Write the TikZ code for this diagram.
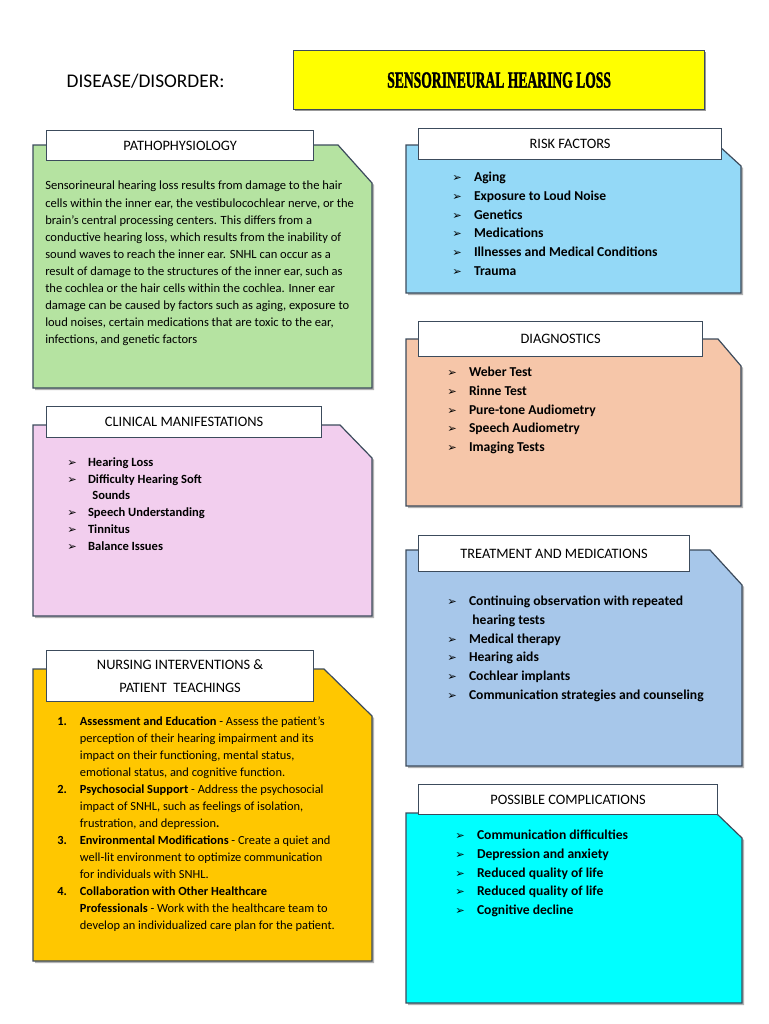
\documentclass[tikz,border=0pt]{standalone}
\usepackage{fontspec}
\setmainfont{Carlito}
\newfontfamily\symf{DejaVu Sans}
\newfontfamily\titlef{Liberation Serif}
\definecolor{cgreen}{RGB}{181,227,161}
\definecolor{cblue}{RGB}{148,217,247}
\definecolor{corange}{RGB}{246,198,169}
\definecolor{cpink}{RGB}{242,206,238}
\definecolor{ctreat}{RGB}{167,199,234}
\definecolor{cyel}{RGB}{255,199,0}
\definecolor{ccyan}{RGB}{0,255,255}
\definecolor{cyellow}{RGB}{255,255,0}
\definecolor{cbd}{RGB}{60,75,92}
\begin{document}
\begin{tikzpicture}[x=0.75pt,y=-0.75pt,
  bd/.style={draw=cbd,line width=0.9pt},
  lab/.style={bd,fill=white,anchor=north west,inner sep=0pt,align=center,font=\fontsize{10.8}{12}\selectfont},
  body/.style={anchor=north west,inner sep=0pt,align=left,font=\fontsize{9.4}{12.8}\selectfont},
  blist/.style={anchor=north west,inner sep=0pt,align=left,font=\bfseries\fontsize{10.2}{14}\selectfont}]
\useasboundingbox (0,0) rectangle (768,1024);
\newcommand\ar{{\symf\fontsize{8.5}{8}\selectfont ➢}\hspace{0.9em}}
\newcommand\fold[7]{\fill[black!30] (#1+2,#3+2) -- (#5+2,#3+2) -- (#2+2,#6+2) -- (#2+2,#4+2) -- (#1+2,#4+2) -- cycle;
  \draw[bd,fill=#7] (#1,#3) -- (#5,#3) -- (#2,#6) -- (#2,#4) -- (#1,#4) -- cycle;}
% title
\node[anchor=west,font=\fontsize{14.5}{16}\selectfont] (dis) at (62,81) {DISEASE/DISORDER:};
\fill[black!40] (295,52) rectangle (706,111);
\node[bd,fill=cyellow,minimum width=411*0.75pt,minimum height=59*0.75pt,anchor=north west,inner sep=0pt] (title) at (293,50)
  {\titlef\bfseries\fontsize{15}{16}\selectfont\scalebox{0.68}[1.15]{\addfontfeature{FakeBold=2}SENSORINEURAL HEARING LOSS}};
% boxes
\fold{33}{372}{145}{388}{338}{183}{cgreen}
\fold{406}{741}{145}{293}{718}{166}{cblue}
\fold{406}{741}{339}{506}{718}{366}{corange}
\fold{33}{372}{425}{616}{340}{458}{cpink}
\fold{406}{742}{550}{766}{710}{585}{ctreat}
\fold{33}{372}{669}{961}{324}{716}{cyel}
\fold{406}{742}{813}{1003}{716}{838}{ccyan}
% labels
\node[lab,minimum width=267*0.75pt,minimum height=30*0.75pt] (l1) at (46,130) {PATHOPHYSIOLOGY};
\node[lab,minimum width=303*0.75pt,minimum height=31*0.75pt] (l2) at (418,128) {RISK FACTORS};
\node[lab,minimum width=284*0.75pt,minimum height=35*0.75pt] (l3) at (418,321) {DIAGNOSTICS};
\node[lab,minimum width=275*0.75pt,minimum height=31*0.75pt] (l4) at (46,406) {CLINICAL MANIFESTATIONS};
\node[lab,minimum width=271*0.75pt,minimum height=36*0.75pt] (l5) at (418,535) {TREATMENT AND MEDICATIONS};
\node[lab,minimum width=267*0.75pt,minimum height=51*0.75pt,font=\fontsize{10.8}{17}\selectfont] (l6) at (46,650) {NURSING INTERVENTIONS \&\\PATIENT\ \ TEACHINGS};
\node[lab,minimum width=299*0.75pt,minimum height=30*0.75pt] (l7) at (418,784) {POSSIBLE COMPLICATIONS};
% texts
\node[body] (t1) at (45,181) {Sensorineural hearing loss results from damage to the hair\\cells within the inner ear, the vestibulocochlear nerve, or the\\brain's central processing centers. This differs from a\\conductive hearing loss, which results from the inability of\\sound waves to reach the inner ear. SNHL can occur as a\\result of damage to the structures of the inner ear, such as\\the cochlea or the hair cells within the cochlea. Inner ear\\damage can be caused by factors such as aging, exposure to\\loud noises, certain medications that are toxic to the ear,\\infections, and genetic factors};
\node[blist] (t2) at (452,172) {\ar Aging\\\ar Exposure to Loud Noise\\\ar Genetics\\\ar Medications\\\ar Illnesses and Medical Conditions\\\ar Trauma};
\node[blist] (t3) at (447,367) {\ar Weber Test\\\ar Rinne Test\\\ar Pure-tone Audiometry\\\ar Speech Audiometry\\\ar Imaging Tests};
\node[blist,font=\bfseries\fontsize{9.4}{12.7}\selectfont] (t4) at (67,457) {\ar Hearing Loss\\\ar Difficulty Hearing Soft\\\hspace{2em}Sounds\\\ar Speech Understanding\\\ar Tinnitus\\\ar Balance Issues};
\node[blist] (t5) at (447,596) {\ar Continuing observation with repeated\\\hspace{1.85em}hearing tests\\\ar Medical therapy\\\ar Hearing aids\\\ar Cochlear implants\\\ar Communication strategies and counseling};
\node[blist] (t7) at (455,830) {\ar Communication difficulties\\\ar Depression and anxiety\\\ar Reduced quality of life\\\ar Reduced quality of life\\\ar Cognitive decline};
\node[anchor=north west,inner sep=0pt,font=\fontsize{9.3}{12.75}\selectfont] (t6) at (57,713) {%
\begin{tabular}{@{}p{17pt}@{}l@{}}
\textbf{1.} & \textbf{Assessment and Education} - Assess the patient's\\
 & perception of their hearing impairment and its\\
 & impact on their functioning, mental status,\\
 & emotional status, and cognitive function.\\
\textbf{2.} & \textbf{Psychosocial Support} - Address the psychosocial\\
 & impact of SNHL, such as feelings of isolation,\\
 & frustration, and depression\textbf{.}\\
\textbf{3.} & \textbf{Environmental Modifications} - Create a quiet and\\
 & well-lit environment to optimize communication\\
 & for individuals with SNHL.\\
\textbf{4.} & \textbf{Collaboration with Other Healthcare}\\
 & \textbf{Professionals} - Work with the healthcare team to\\
 & develop an individualized care plan for the patient.
\end{tabular}};
\end{tikzpicture}
\end{document}
